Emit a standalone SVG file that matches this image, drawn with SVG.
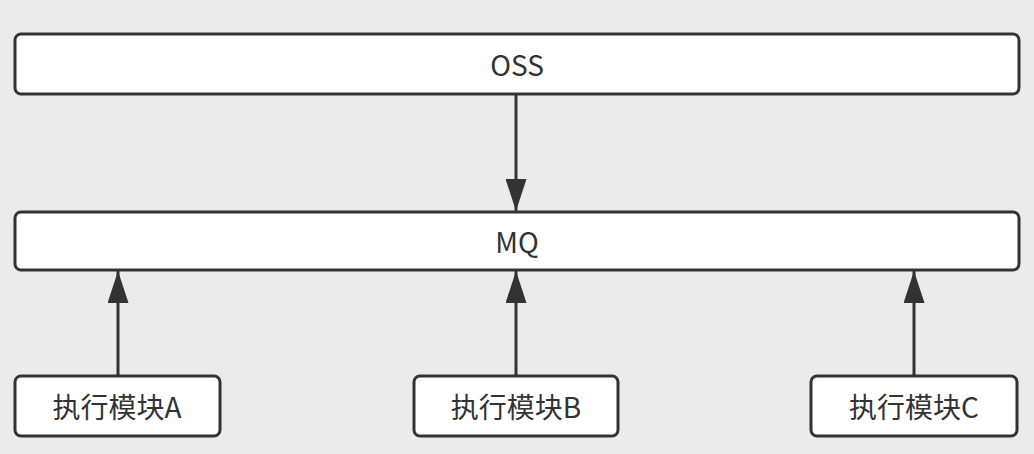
<svg xmlns="http://www.w3.org/2000/svg" width="1034" height="454" viewBox="0 0 1034 454">
<style>
.box{fill:#fff;stroke:#333;stroke-width:3}
.lbl{font-family:"Noto Sans CJK SC","Noto Sans",sans-serif;font-size:28px;fill:#333;text-anchor:middle;dominant-baseline:central}
.edge{stroke:#333;stroke-width:3;fill:none}
</style>
<defs>
<marker id="arr" markerUnits="userSpaceOnUse" markerWidth="32" markerHeight="21" refX="30" refY="10" orient="auto" viewBox="0 0 30 20" preserveAspectRatio="none">
<path d="M0,0 L30,10 L0,20 Z" fill="#333"/>
</marker>
</defs>
<rect width="1034" height="454" fill="#ebebeb"/>
<g id="oss"><rect class="box" x="15" y="34" width="1004" height="60" rx="6"/><text class="lbl" x="517" y="64">OSS</text></g>
<g id="mq"><rect class="box" x="15" y="212" width="1004" height="58" rx="6"/><text class="lbl" x="517" y="241">MQ</text></g>
<g id="a"><rect class="box" x="15" y="376" width="205" height="60" rx="6"/><text class="lbl" x="117" y="406">执行模块A</text></g>
<g id="b"><rect class="box" x="414" y="376" width="204" height="60" rx="6"/><text class="lbl" x="516" y="406">执行模块B</text></g>
<g id="c"><rect class="box" x="811" y="376" width="206" height="60" rx="6"/><text class="lbl" x="914" y="406">执行模块C</text></g>
<g id="connectors">
<line class="edge" x1="516" y1="95" x2="516" y2="211" marker-end="url(#arr)"/>
<line class="edge" x1="118" y1="375" x2="118" y2="271" marker-end="url(#arr)"/>
<line class="edge" x1="516" y1="375" x2="516" y2="271" marker-end="url(#arr)"/>
<line class="edge" x1="914" y1="375" x2="914" y2="271" marker-end="url(#arr)"/>
</g>
</svg>
